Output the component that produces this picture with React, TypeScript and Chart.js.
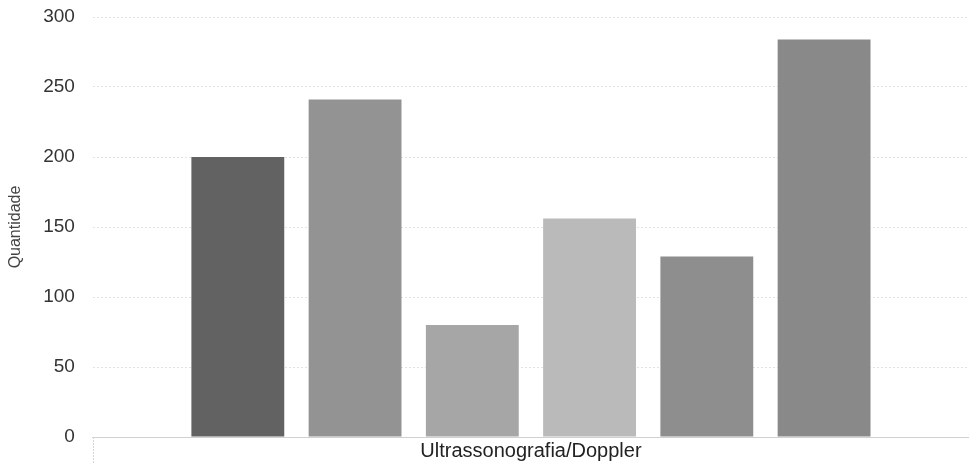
import React, { useEffect, useRef } from "react";
import { Chart, registerables } from "chart.js";

Chart.register(...registerables);

const categories = ["Ultrassonografia/Doppler"];
const seriesNames = ["Série 1", "Série 2", "Série 3", "Série 4", "Série 5", "Série 6"];
const seriesValues = [200, 241, 80, 156, 129, 284];
const seriesColors = ["#626262", "#939393", "#a6a6a6", "#bababa", "#8e8e8e", "#898989"];
const yTicks = [0, 50, 100, 150, 200, 250, 300];

const axisBoxPlugin = {
  id: "axisBox",
  afterDraw(chart: any) {
    const { ctx, chartArea } = chart;
    ctx.save();
    ctx.strokeStyle = "#d6d6d6";
    ctx.lineWidth = 1;
    ctx.setLineDash([2, 1]);
    ctx.beginPath();
    ctx.moveTo(Math.round(chartArea.left) + 0.5, chartArea.bottom);
    ctx.lineTo(Math.round(chartArea.left) + 0.5, chart.height);
    ctx.stroke();
    ctx.restore();
  },
};

export default function App() {
  const ref = useRef<HTMLCanvasElement | null>(null);
  useEffect(() => {
    document.body.style.margin = "0";
    if (!ref.current) return;
    const chart = new Chart(ref.current, {
      type: "bar",
      data: {
        labels: categories,
        datasets: seriesNames.map((n, i) => ({
          label: n,
          data: [seriesValues[i]],
          backgroundColor: seriesColors[i],
          borderWidth: 0,
          categoryPercentage: 0.803,
          barPercentage: 0.792,
        })),
      },
      options: {
        animation: false,
        responsive: false,
        maintainAspectRatio: false,
        layout: { padding: { top: 17, right: 0, left: 6, bottom: 0 } },
        plugins: { legend: { display: false }, tooltip: { enabled: false } },
        scales: {
          x: {
            grid: { display: false },
            border: { display: true, color: "#d0d0d0", dash: [2, 1] },
            afterFit: (axis: any) => {
              axis.height = 27;
            },
            ticks: {
              color: "#222",
              font: { family: "Liberation Sans, Arial", size: 20 },
              padding: -6,
            },
          },
          y: {
            min: 0,
            max: yTicks[yTicks.length - 1],
            afterBuildTicks: (axis: any) => {
              axis.ticks = yTicks.map((v) => ({ value: v }));
            },
            afterFit: (axis: any) => {
              axis.paddingTop = 0;
              axis.paddingBottom = 0;
            },
            title: {
              display: true,
              text: "Quantidade",
              color: "#444",
              font: { family: "Liberation Sans, Arial", size: 16 },
              padding: { top: 0, bottom: 0 },
            },
            grid: { color: "#e2e2e2", drawTicks: false },
            border: { display: false, dash: [2, 2] },
            ticks: {
              color: "#333",
              font: { family: "Liberation Sans, Arial", size: 19 },
              padding: 18,
            },
          },
        },
      },
      plugins: [axisBoxPlugin],
    });
    return () => chart.destroy();
  }, []);
  return (
    <div style={{ width: 969, height: 464 }}>
      <canvas ref={ref} width={969} height={464} style={{ display: "block" }} />
    </div>
  );
}
